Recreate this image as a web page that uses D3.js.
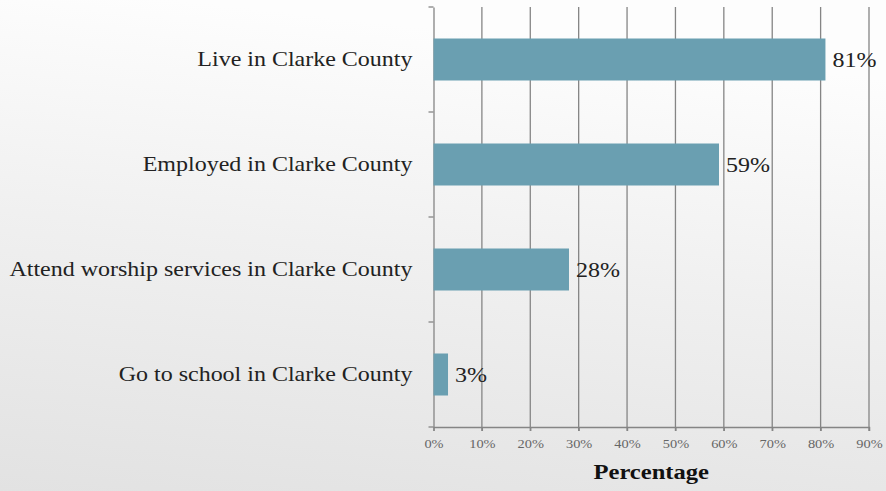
<!DOCTYPE html>
<html><head><meta charset="utf-8">
<script src="https://cdn.jsdelivr.net/npm/d3@7"></script>
<style>html,body{margin:0;padding:0;overflow:hidden;}svg{display:block;}</style>
</head><body>
<svg id="chart" width="886" height="491"></svg>
<script>
const categories = ["Live in Clarke County","Employed in Clarke County","Attend worship services in Clarke County","Go to school in Clarke County"];
const values = [81, 59, 28, 3];
const xTicks = [0,10,20,30,40,50,60,70,80,90];
const xTitle = "Percentage";

const W = 886, H = 491;
const m = {left: 433.5, right: 17, top: 7, bottom: 64};
const FONT = '"Liberation Serif","Times New Roman",Times,serif';
const SX = 1.2; // horizontal stretch of the original picture's text
const svg = d3.select("#chart");
const defs = svg.append("defs");
const g1 = defs.append("linearGradient").attr("id","bg").attr("x1",0.2).attr("y1",0).attr("x2",0).attr("y2",1);
g1.append("stop").attr("offset","0%").attr("stop-color","#fdfdfd");
g1.append("stop").attr("offset","45%").attr("stop-color","#f0f0f0");
g1.append("stop").attr("offset","100%").attr("stop-color","#e2e2e2");
svg.append("rect").attr("width",W).attr("height",H).attr("fill","url(#bg)");

const x = d3.scaleLinear().domain([0,90]).range([m.left, W - m.right]);
const y = d3.scaleBand().domain(categories).range([m.top, H - m.bottom]).paddingInner(0.6).paddingOuter(0.3);
const yb = d3.scaleBand().domain(categories).range([m.top, H - m.bottom]);

svg.append("g").selectAll("line").data(xTicks.slice(1)).join("line")
  .attr("x1",d=>x(d)).attr("x2",d=>x(d)).attr("y1",m.top).attr("y2",H-m.bottom+4)
  .attr("stroke","#858585").attr("stroke-width",1.3);

const xAxis = svg.append("g").attr("transform",`translate(0,${H-m.bottom})`)
  .call(d3.axisBottom(x).tickValues(xTicks).tickSize(4).tickPadding(8).tickFormat(d=>d+"%"));
xAxis.attr("font-family",FONT);
xAxis.select(".domain").attr("stroke","#858585").attr("stroke-width",1.3);
xAxis.selectAll(".tick line").attr("stroke","#858585").attr("stroke-width",1.3);
xAxis.selectAll("text").attr("font-size",12).attr("fill","#666").attr("transform",`scale(${SX},1)`);

const yAxis = svg.append("g").attr("transform",`translate(${m.left},0)`)
  .call(d3.axisLeft(yb).tickSize(0).tickPadding(21));
yAxis.attr("font-family",FONT);
yAxis.select(".domain").attr("stroke","#858585").attr("stroke-width",1.3);
yAxis.selectAll("text").attr("font-size",20).attr("fill","#222")
  .attr("x",-21/SX).attr("transform",`scale(${SX},1)`);
const bounds = [m.top].concat(categories.map(c=>yb(c)+yb.bandwidth()));
svg.append("g").selectAll("line").data(bounds).join("line")
  .attr("x1",m.left-5).attr("x2",m.left).attr("y1",d=>d).attr("y2",d=>d)
  .attr("stroke","#858585").attr("stroke-width",1.3);

svg.append("g").selectAll("rect").data(values).join("rect")
  .attr("x",x(0)).attr("y",(d,i)=>y(categories[i]))
  .attr("width",d=>x(d)-x(0)).attr("height",y.bandwidth())
  .attr("fill","#6a9fb1");

svg.append("g").attr("font-family",FONT).selectAll("g").data(values).join("g")
  .attr("transform",(d,i)=>`translate(${x(d)+7},${y(categories[i])+y.bandwidth()/2}) scale(${SX},1)`)
  .append("text").attr("dy","0.35em").attr("font-size",20).attr("fill","#222")
  .text(d=>d+"%");

svg.append("g").attr("transform",`translate(${(x(0)+x(90))/2},479) scale(${SX},1)`)
  .append("text").attr("text-anchor","middle")
  .attr("font-family",FONT).attr("font-weight","bold").attr("font-size",20.5).attr("fill","#111")
  .text(xTitle);
</script>
</body></html>
